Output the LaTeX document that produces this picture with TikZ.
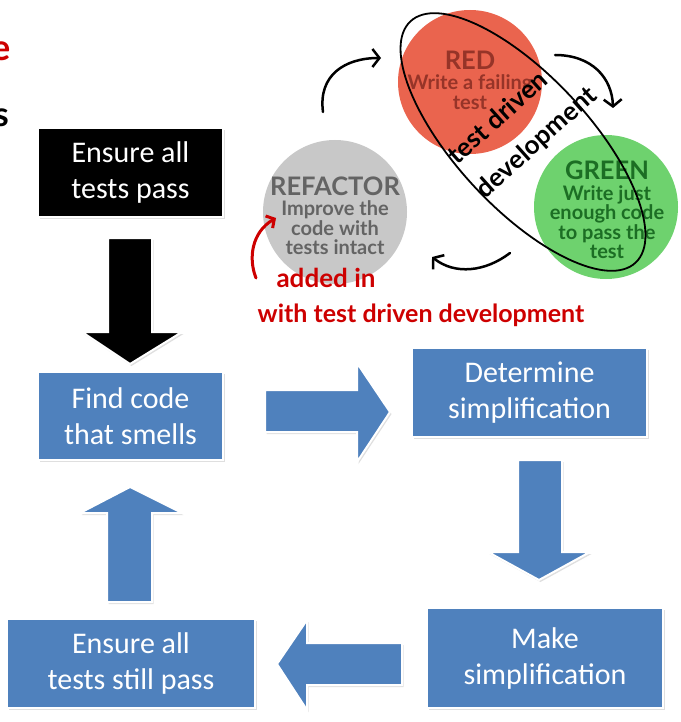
\documentclass[tikz,border=0pt]{standalone}
\usepackage{fontspec}
\setmainfont{Carlito}
\newfontfamily\circfont{Lato}
\newfontfamily\handfont{Lato}
\newcommand\circtitlefont{\fontsize{25.5}{27}\selectfont}
\usetikzlibrary{arrows.meta,shadows}
\definecolor{boxblue}{RGB}{79,129,189}
\definecolor{redfill}{RGB}{234,100,78}
\definecolor{redtext}{RGB}{150,52,40}
\definecolor{greenfill}{RGB}{110,210,110}
\definecolor{greentext}{RGB}{28,110,36}
\definecolor{grayfill}{RGB}{200,200,200}
\definecolor{graytext}{RGB}{100,100,100}
\definecolor{inkred}{RGB}{205,0,0}
\begin{document}
\begin{tikzpicture}[x=1pt,y=-1pt,
  shade/.style={drop shadow={shadow xshift=1.5pt,shadow yshift=-2pt,opacity=0.25}},
  box/.style={draw=white,line width=1.5pt,fill=boxblue,text=white,shade,
    font=\fontsize{30}{36}\selectfont,align=center,inner sep=0pt},
  blockarrow/.style={fill=boxblue,draw=white,line width=2pt,line join=miter,shade},
  cycle circle/.style={circle,inner sep=0pt,minimum size=144pt},
  circtext/.style={align=center,font=\circfont\bfseries\fontsize{20}{19.5}\selectfont},
  ink/.style={line width=2.5pt,line cap=round,-{Straight Barb[length=7pt,width=18pt]}},
  handtext/.style={font=\handfont\bfseries\fontsize{26}{28}\selectfont}]
\useasboundingbox (0,0) rectangle (680,722);

% cropped fragments at left edge
\node[anchor=east,text=inkred,font=\handfont\bfseries\fontsize{36}{38}\selectfont,inner sep=0pt] (fragA) at (11,51) {e};
\node[anchor=east,text=black,font=\handfont\bfseries\fontsize{34}{36}\selectfont,inner sep=0pt] (fragB) at (9,118) {s};

% boxes
\node[box,fill=black,minimum width=185pt,minimum height=89pt] (ensure) at (130.5,172.5) {Ensure all\\tests pass};
\node[box,minimum width=185pt,minimum height=88pt] (find) at (130.5,416) {Find code\\that smells};
\node[box,minimum width=235pt,minimum height=89pt] (determine) at (529.5,392.5) {Determine\\simplification};
\node[box,minimum width=236pt,minimum height=100pt] (make) at (545,658) {Make\\simplification};
\node[box,minimum width=248pt,minimum height=89pt] (still) at (131,663.5) {Ensure all\\tests still pass};

% block arrows
\draw[blockarrow,fill=black] (108,238) -- (152,238) -- (152,332) -- (182,332) -- (130,364) -- (82,332) -- (108,332) -- cycle;
\draw[blockarrow] (265,390) -- (357,390) -- (357,363) -- (390,412) -- (357,462) -- (357,432) -- (265,432) -- cycle;
\draw[blockarrow] (518,460) -- (562,460) -- (562,552) -- (590,552) -- (539,580) -- (488,552) -- (518,552) -- cycle;
\draw[blockarrow] (402,643) -- (307,643) -- (307,620) -- (277,664) -- (307,710) -- (307,685) -- (402,685) -- cycle;
\draw[blockarrow] (107,602) -- (107,513) -- (80,513) -- (130,487) -- (182,513) -- (152,513) -- (152,602) -- cycle;

% TDD circles
\node[cycle circle,fill=redfill] (red) at (470,82) {};
\node[cycle circle,fill=greenfill] (green) at (606,207) {};
\node[cycle circle,fill=grayfill] (refactor) at (335,212) {};
\node[circtext,text=redtext] (redT) at (470,80) {{\circtitlefont RED}\\[1pt]Write a failing\\test};
\node[circtext,text=greentext] (greenT) at (607,210) {{\circtitlefont GREEN}\\[1pt]Write just\\enough code\\to pass the\\test};
\node[circtext,text=graytext] (refT) at (335,216) {{\circtitlefont REFACTOR}\\[1pt]Improve the\\code with\\tests intact};

% hand-drawn cycle arrows
\coordinate (a1s) at (323,112); \coordinate (a1e) at (381,58);
\coordinate (a2s) at (555,55);  \coordinate (a2e) at (613,108);
\coordinate (a3s) at (510,253); \coordinate (a3e) at (432,257);
\draw[ink] (a1s) .. controls (318,75) and (345,58) .. (a1e);
\draw[ink] (a2s) .. controls (592,55) and (612,78) .. (a2e);
\draw[ink] (a3s) .. controls (485,272) and (455,275) .. (a3e);

% hand-drawn loop around RED and GREEN
\draw[line width=1.8pt] (523,142) [rotate around={-47:(523,142)}] ellipse (165 and 66);
\node[handtext,rotate=42] (tdd1) at (497,117) {test driven};
\node[handtext,rotate=42] (tdd2) at (537,143) {development};

% red annotation
\coordinate (rs) at (256,278); \coordinate (re) at (276,218);
\draw[inkred,line width=3pt,line cap=round,-{Straight Barb[length=6pt,width=14pt]}] (rs) .. controls (248,258) and (252,232) .. (re);
\node[handtext,text=inkred] (add1) at (326,278) {\fontsize{26}{28}\selectfont added in};
\node[handtext,text=inkred] (add2) at (421,315) {\fontsize{25}{28}\selectfont with test driven development};
\end{tikzpicture}
\end{document}
